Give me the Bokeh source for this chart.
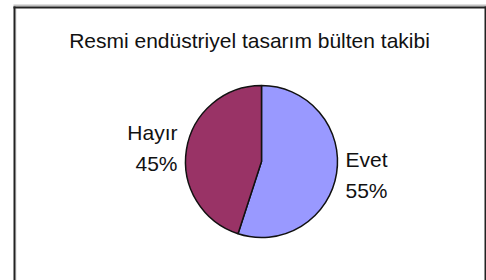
import math
from bokeh.plotting import figure
from bokeh.models import Range1d, ColumnDataSource
from bokeh.core.properties import value
from bokeh.embed import file_html
from bokeh.resources import INLINE

title_text = "Resmi endüstriyel tasarım bülten takibi"
categories = ["Evet", "Hayır"]
values = [55, 45]
colors = ["#9999FF", "#993366"]

# data units == pixels of the picture (y measured upward)
W, H = 486, 280
CX, CY, R = 261, 119, 76
R_LABEL = 85
FONT = value("Liberation Sans")

p = figure(width=W, height=H, output_backend="svg", toolbar_location=None, title=None,
           x_range=Range1d(0, W), y_range=Range1d(0, H), min_border=0,
           x_axis_type=None, y_axis_type=None,
           background_fill_color="white", border_fill_color="white")
p.grid.visible = False
p.outline_line_color = None

# grey band and chart frame (decoration)
p.quad(left=[13], right=[486], top=[276], bottom=[274], fill_color="#c0c0c0", line_color=None)
p.quad(left=[15], right=[16], top=[272], bottom=[-5], fill_color="#dcdcdc", line_color=None)
p.quad(left=[13], right=[15], top=[274], bottom=[-5], fill_color="#222222", line_color=None)
p.quad(left=[484], right=[486], top=[274], bottom=[-5], fill_color="#222222", line_color=None)
p.quad(left=[13], right=[486], top=[274], bottom=[272], fill_color="#222222", line_color=None)

total = sum(values)
starts, ends = [], []
a = math.pi / 2
for v in values:
    starts.append(a)
    a = a - 2 * math.pi * v / total
    ends.append(a)

src = ColumnDataSource(dict(cat=categories, val=values, start=starts, end=ends, color=colors))
p.wedge(x=CX, y=CY, radius=R, start_angle="start", end_angle="end", direction="clock",
        fill_color="color", line_color="#111111", line_width=1.5, source=src)

for cat, v, s, e in zip(categories, values, starts, ends):
    mid = (s + e) / 2
    lx = CX + R_LABEL * math.cos(mid)
    ly = CY + R_LABEL * math.sin(mid)
    align = "left" if math.cos(mid) > 0 else "right"
    p.text(x=[lx], y=[ly], text=[f"{cat}\n{v}%"], text_align=align, text_baseline="middle",
           text_font=FONT, text_font_size="21px", text_color="#111111",
           text_line_height=1.35)

p.text(x=[249], y=[240], text=[title_text], text_align="center", text_baseline="alphabetic",
       text_font=FONT, text_font_size="21px", text_color="#111111")

open("out.html", "w").write(file_html(p, INLINE))
